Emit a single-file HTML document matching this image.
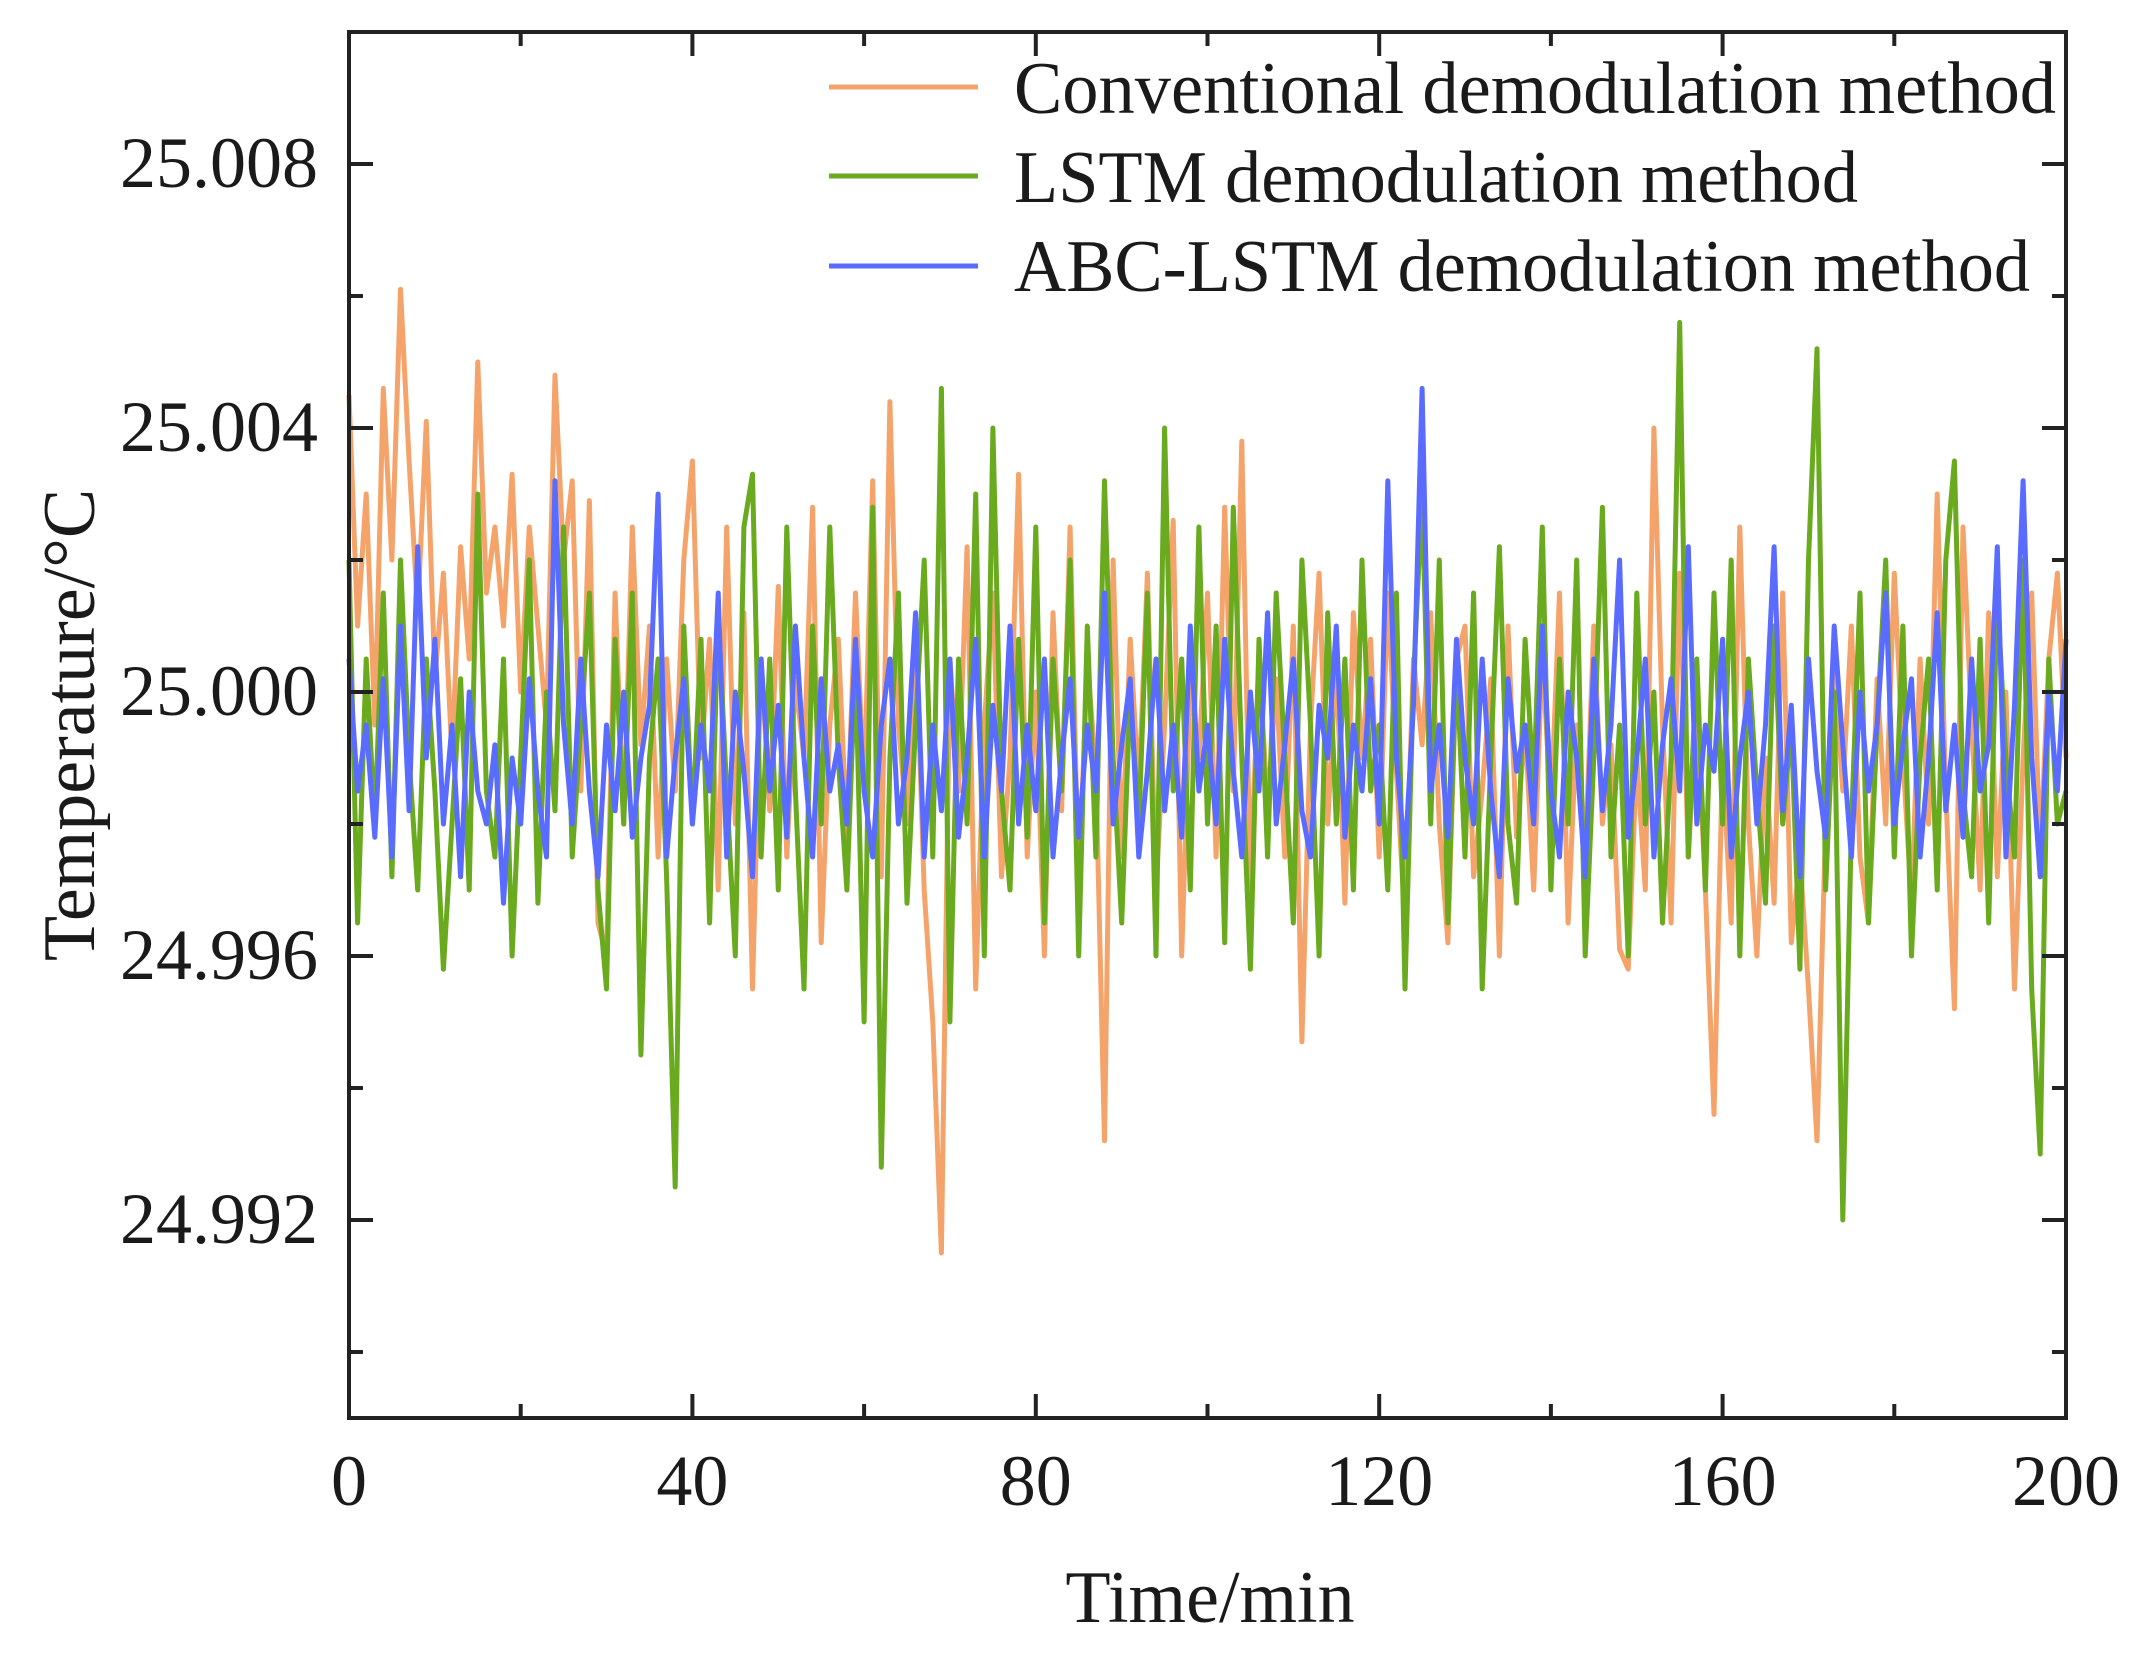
<!DOCTYPE html>
<html><head><meta charset="utf-8"><style>
html,body{margin:0;padding:0;background:#fff;}
svg{display:block;}
text{font-family:"Liberation Serif",serif;fill:#1a1a1a;}
</style></head><body>
<svg id="chart" width="2144" height="1661" viewBox="0 0 2144 1661" xmlns="http://www.w3.org/2000/svg">
<g id="series"></g>
<g id="axes"></g>
<g id="legend">
  <line x1="829" y1="87" x2="978" y2="87" stroke="#F4A46A" stroke-width="5"/>
  <text x="1014" y="113" font-size="74" textLength="1042" lengthAdjust="spacingAndGlyphs">Conventional demodulation method</text>
  <line x1="829" y1="176" x2="978" y2="176" stroke="#6AAA1E" stroke-width="5"/>
  <text x="1014" y="202" font-size="74" textLength="844" lengthAdjust="spacingAndGlyphs">LSTM demodulation method</text>
  <line x1="829" y1="266" x2="978" y2="266" stroke="#5A6CFF" stroke-width="5"/>
  <text x="1014" y="291" font-size="74" textLength="1016" lengthAdjust="spacingAndGlyphs">ABC-LSTM demodulation method</text>
</g>
<text x="1210" y="1622" font-size="74" text-anchor="middle">Time/min</text>
<text transform="translate(94,725) rotate(-90)" font-size="74" text-anchor="middle">Temperature/°C</text>
</svg>
<script>
// data (offsets from base in millidegrees C), one sample per minute 0..200
const baseTemp = 25.0;
const times = Array.from({length:201},(_, i)=>i);
const conventional = [
4.5,1.0,3.0,-0.5,4.6,2.0,6.1,3.5,1.2,4.1,0.2,1.8,-1.0,2.2,0.5,5.0,1.5,2.5,1.0,3.3,
0.0,2.5,1.0,-0.5,4.8,2.0,3.2,-1.5,2.9,-3.5,-4.0,1.5,-2.0,2.5,-0.8,1.0,-2.5,0.5,-1.5,2.0,
3.5,-1.0,0.8,-3.0,2.5,-2.0,1.2,-4.5,0.5,-1.8,1.6,-2.5,0.2,-1.0,2.8,-3.8,-0.5,0.8,-2.2,1.5,
-1.5,3.2,-2.8,4.4,-0.5,-2.0,1.0,-3.0,-5.0,-8.5,0.5,-1.5,2.2,-4.5,-0.5,1.5,-2.8,-1.0,3.3,-2.5,
0.0,-4.0,1.2,-1.8,2.5,-3.0,0.5,-1.2,-6.8,2.0,-2.5,0.8,-1.5,1.8,-3.0,-0.5,2.6,-4.0,0.2,-1.0,
1.5,-2.5,2.8,-1.5,3.8,-3.0,0.6,-1.8,0.2,-2.5,1.0,-5.3,-0.5,1.8,-2.0,0.5,-3.2,1.2,-1.0,0.8,
-2.5,1.5,-1.2,-3.5,0.5,-0.8,1.2,-2.0,-3.8,0.5,1.0,-2.8,-1.5,0.2,-4.0,1.0,-2.2,-0.5,-3.0,0.6,
-1.8,1.5,-3.5,-0.5,-2.5,1.0,-2.0,-0.8,-3.9,-4.2,-1.0,-3.0,4.0,-0.5,-3.5,1.8,-2.5,-0.2,-3.0,-6.4,
-1.0,-3.5,2.5,-2.0,-4.0,-1.0,-3.2,1.5,-3.8,-2.5,-4.5,-6.8,-2.0,0.5,-1.5,1.0,-2.5,-3.5,0.2,-2.0,
1.8,-1.0,-3.2,0.5,-2.0,3.0,-1.5,-4.8,2.5,-0.5,-3.0,1.2,-2.8,0.0,-4.5,-1.0,1.5,-2.5,0.5,1.8,-1.0];
const lstm = [
2.0,-3.5,0.5,-2.0,1.5,-2.8,2.0,-1.0,-3.0,0.5,-1.5,-4.2,-2.0,0.2,-3.0,3.0,-1.5,-2.5,0.5,-4.0,
-1.0,2.0,-3.2,0.0,-1.8,2.5,-2.5,-0.5,1.5,-3.0,-4.5,0.8,-2.0,1.5,-5.5,-1.0,0.5,-2.8,-7.5,1.0,
-2.0,0.8,-3.5,1.2,-1.5,-4.0,2.5,3.3,-2.5,0.5,-3.0,2.5,-1.5,-4.5,1.0,-2.0,2.5,-1.0,-3.0,0.5,
-5.0,2.8,-7.2,-1.0,1.5,-3.2,-0.5,2.0,-2.5,4.6,-5.0,0.5,-2.0,3.0,-4.0,4.0,-1.5,-3.0,0.8,-2.2,
2.5,-3.5,0.5,-1.5,2.0,-4.0,1.0,-2.5,3.2,-1.0,-3.5,0.0,-2.0,1.5,-4.0,4.0,-1.5,0.5,-3.0,2.5,
-2.0,1.0,-3.8,2.8,-1.0,-4.2,0.8,-2.5,1.5,-1.0,-3.5,2.0,-0.5,-4.0,1.2,-2.0,0.5,-3.0,2.0,-1.5,
-0.5,-3.0,1.5,-4.5,0.2,3.0,-2.0,2.0,-3.5,0.5,-2.5,1.5,-4.5,-1.0,2.2,-2.0,-3.2,0.8,-1.5,2.5,
-3.0,0.5,-2.0,2.0,-4.0,-1.0,2.8,-2.5,-0.5,-4.0,1.5,-2.0,0.0,-3.5,-1.0,5.6,-2.5,0.5,-3.0,1.5,
-2.0,2.0,-4.0,0.5,-1.5,-3.2,1.0,-2.0,-0.5,-4.2,2.0,5.2,-3.0,0.0,-8.0,-2.0,1.5,-3.5,-0.5,2.0,
-2.5,1.0,-4.0,-1.0,0.5,-3.0,2.0,3.5,-1.5,-2.8,0.8,-3.5,1.5,-1.0,-2.5,2.0,-4.5,-7.0,0.5,-2.0,-1.5];
const abcLstm = [
0.5,-1.5,-0.5,-2.2,0.2,-2.5,1.0,-1.8,2.2,-1.0,0.8,-2.0,-0.5,-2.8,0.0,-1.5,-2.0,-0.8,-3.2,-1.0,
-2.0,0.2,-1.5,-2.5,3.2,-0.5,-2.0,0.5,-1.5,-2.8,-0.5,-1.8,0.0,-2.2,-1.0,-0.2,3.0,-2.5,-1.0,0.2,
-2.0,-0.5,-1.5,1.5,-2.5,0.0,-1.2,-2.8,0.5,-1.5,-0.2,-2.2,1.0,-1.0,-2.5,0.2,-1.5,-0.8,-2.0,0.8,
-1.5,-2.5,-0.5,0.5,-2.0,-1.0,1.2,-2.5,-0.5,-1.8,0.5,-2.2,-1.0,0.8,-2.5,-0.2,-1.5,1.0,-2.0,-0.5,
-1.8,0.5,-2.5,-1.0,0.2,-2.2,-0.5,-1.5,1.5,-2.0,-0.8,0.2,-2.5,-1.2,0.5,-1.8,-0.5,-2.2,1.0,-1.5,
-0.5,-2.0,0.8,-1.2,-2.5,0.0,-1.5,1.2,-2.0,-0.8,0.5,-1.8,-2.5,-0.2,-1.0,1.0,-2.2,-0.5,-1.5,0.2,
-2.0,3.2,-1.0,-2.5,-0.2,4.6,-1.5,-0.5,-2.2,0.8,-1.0,-2.0,0.5,-1.5,-2.8,0.2,-1.2,-0.5,-2.0,1.0,
-1.5,-2.5,0.0,-1.0,-2.8,0.5,-1.8,-0.5,2.0,-2.2,-1.0,0.5,-2.5,-0.8,0.2,-1.5,2.2,-2.0,-0.5,-1.2,
0.8,-2.5,-1.0,0.0,-2.0,-0.5,2.2,-1.8,-0.2,-2.8,0.5,-1.2,-2.2,1.0,-0.8,-2.5,0.0,-1.5,-0.5,1.5,
-2.0,-0.8,0.2,-2.5,-1.0,1.2,-1.8,-0.5,-2.2,0.5,-1.5,-0.8,2.2,-2.5,-0.2,3.2,-1.0,-2.8,0.0,-1.5,0.8];
const xTickLabels = ["0","40","80","120","160","200"];
const yTickLabels = ["24.992","24.996","25.000","25.004","25.008"];

const NS="http://www.w3.org/2000/svg";
const L=349,R=2066,T=32,B=1418;
const xMin=0,xMax=200,yMin=24.989,yMax=25.010;
function xs(t){return L+(t-xMin)/(xMax-xMin)*(R-L);}
function ys(v){return B-(v-yMin)/(yMax-yMin)*(B-T);}
function mk(tag,attrs,parent){const e=document.createElementNS(NS,tag);for(const k in attrs)e.setAttribute(k,attrs[k]);parent.appendChild(e);return e;}

const sg=document.getElementById('series');
const seriesList=[[conventional,'#F4A46A','series-conventional'],[lstm,'#6AAA1E','series-lstm'],[abcLstm,'#5A6CFF','series-abc-lstm']];
seriesList.forEach(([vals,col,name])=>{
  const d=vals.map((v,i)=>(i?'L':'M')+xs(times[i]).toFixed(1)+','+ys(baseTemp+v/1000).toFixed(1)).join('');
  const p=mk('path',{d:d,fill:'none',stroke:col,'stroke-width':5,'stroke-linejoin':'round'},sg);
  
  
});

const ag=document.getElementById('axes');
const frame=mk('rect',{x:L,y:T,width:R-L,height:B-T,fill:'none',stroke:'#222','stroke-width':4},ag);


for(let t=0;t<=200;t+=20){
  const major=t%40===0, len=major?24:14;
  const x=xs(t);
  const tb=mk('line',{x1:x,y1:B,x2:x,y2:B-len,stroke:'#222','stroke-width':4},ag);
  
  
  const tt=mk('line',{x1:x,y1:T,x2:x,y2:T+len,stroke:'#222','stroke-width':4},ag);
  
  
}
xTickLabels.forEach(s=>{
  const tx=mk('text',{x:xs(parseFloat(s)),y:1505,'font-size':72,'text-anchor':'middle'},ag);
  tx.textContent=s;
  
  
});
for(let k=0;k<=10;k++){
  const v=24.990+k*0.002;
  const major=(k%2===1), len=major?24:14;
  const y=ys(v);
  const tl=mk('line',{x1:L,y1:y,x2:L+len,y2:y,stroke:'#222','stroke-width':4},ag);
  
  
  const tr=mk('line',{x1:R,y1:y,x2:R-len,y2:y,stroke:'#222','stroke-width':4},ag);
  
  
}
yTickLabels.forEach(s=>{
  const ty=mk('text',{x:318,y:ys(parseFloat(s))+23,'font-size':72,'text-anchor':'end'},ag);
  ty.textContent=s;
  
  
});
</script>
</body></html>
